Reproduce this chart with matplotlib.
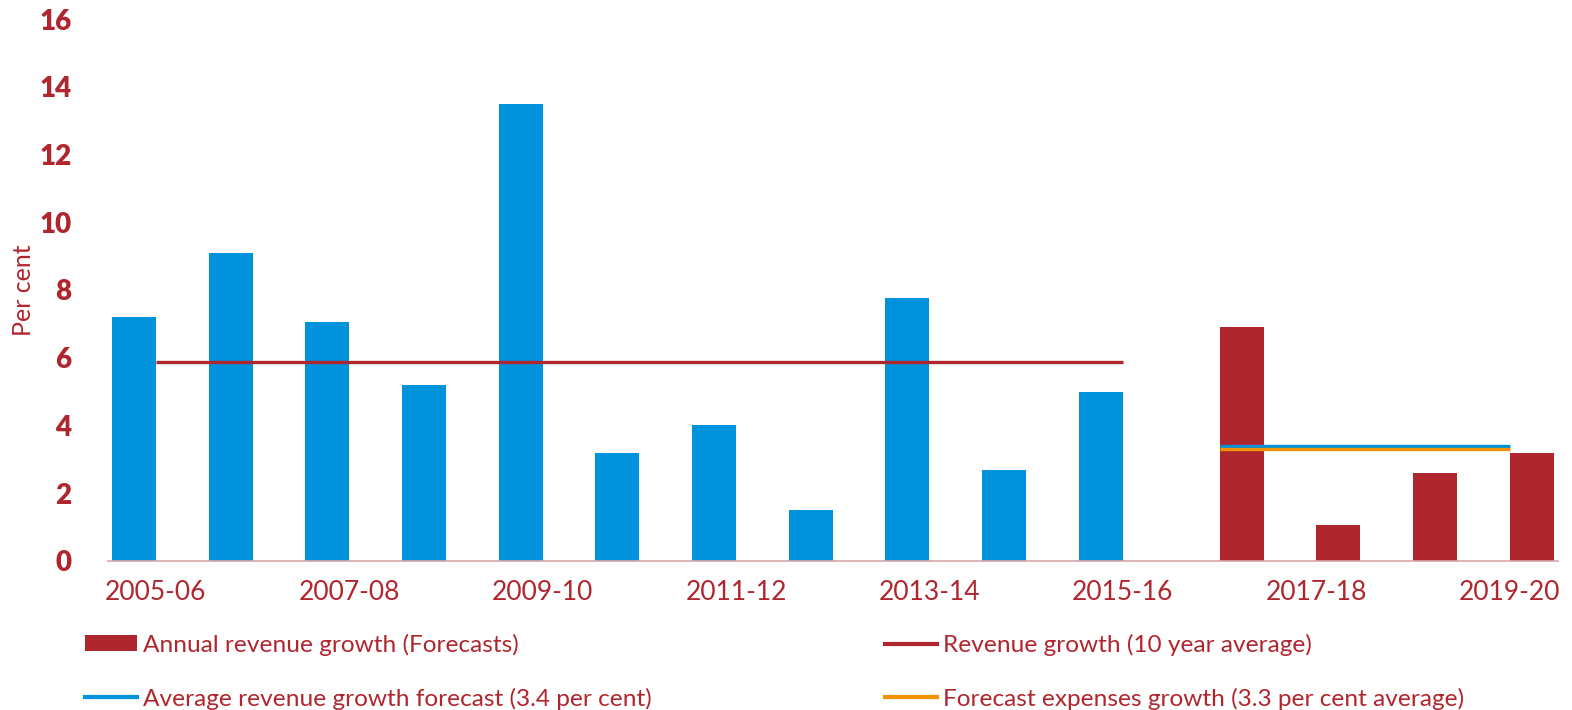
import matplotlib
matplotlib.use("Agg")
import matplotlib.pyplot as plt
from matplotlib.patches import Patch
from matplotlib.lines import Line2D
import numpy as np

plt.rcParams['font.family'] = ['Lato', 'DejaVu Sans']

years = ["2005-06", "2006-07", "2007-08", "2008-09", "2009-10", "2010-11", "2011-12",
         "2012-13", "2013-14", "2014-15", "2015-16", "2016-17", "2017-18", "2018-19", "2019-20"]
actual_growth = [7.2, 9.1, 7.05, 5.2, 13.5, 3.2, 4.0, 1.5, 7.75, 2.7, 5.0]
forecast_growth = [6.9, 1.05, 2.6, 3.2]
ten_year_avg = 5.87
forecast_rev_avg = 3.4
forecast_exp_avg = 3.3

RED = "#B0262F"
BLUE = "#0092DA"
ORANGE = "#F39200"

fig = plt.figure(figsize=(15.72, 7.10), dpi=100)
ax = fig.add_axes([0.0684, 0.2099, 0.9227, 0.7633])

x = np.arange(len(years))
w = 0.455
n_act = len(actual_growth)
ax.bar(x[:n_act] - w / 2, actual_growth, width=w, color=BLUE)
ax.bar(x[n_act:] + w / 2, forecast_growth, width=w, color=RED)

ax.plot([x[0], x[n_act - 1]], [ten_year_avg] * 2, color=RED, lw=2.4, solid_capstyle='butt')
ax.plot([x[n_act], x[-1]], [forecast_rev_avg] * 2, color=BLUE, lw=2.4, solid_capstyle='butt')
ax.plot([x[n_act], x[-1]], [forecast_exp_avg] * 2, color=ORANGE, lw=2.4, solid_capstyle='butt')

ax.set_xlim(-0.5, len(years) - 0.5)
ax.set_ylim(0, 16)
ax.set_yticks(range(0, 17, 2))
ax.set_yticklabels([str(v) for v in range(0, 17, 2)], fontsize=20, fontweight='heavy', color=RED)
ax.set_xticks(x[::2])
ax.set_xticklabels(years[::2], fontsize=19, color=RED)
ax.tick_params(axis='both', length=0)
ax.tick_params(axis='y', pad=26)
ax.tick_params(axis='x', pad=14)
for s in ['top', 'right', 'left']:
    ax.spines[s].set_visible(False)
ax.spines['bottom'].set_color("#D8A5A8")
ax.spines['bottom'].set_linewidth(1.2)
ax.set_ylabel("Per cent", fontsize=18, color=RED)
ax.yaxis.set_label_coords(-0.05, 0.5)

col1 = [Patch(facecolor=RED), Line2D([], [], color=BLUE, lw=3)]
col1_lab = ["Annual revenue growth (Forecasts)", "Average revenue growth forecast (3.4 per cent)"]
col2 = [Line2D([], [], color=RED, lw=3), Line2D([], [], color=ORANGE, lw=3)]
col2_lab = ["Revenue growth (10 year average)", "Forecast expenses growth (3.3 per cent average)"]

for handles, labels, x0 in [(col1, col1_lab, 85 / 1572), (col2, col2_lab, 885 / 1572)]:
    leg = fig.legend(handles, labels, loc='center left', bbox_to_anchor=(x0, 0.054),
                     frameon=False, fontsize=17.6, handlelength=2.13, handletextpad=0.25,
                     handleheight=0.6, labelspacing=1.3, borderpad=0, borderaxespad=0)
    for t in leg.get_texts():
        t.set_color(RED)

fig.savefig("out.png", dpi=100)
